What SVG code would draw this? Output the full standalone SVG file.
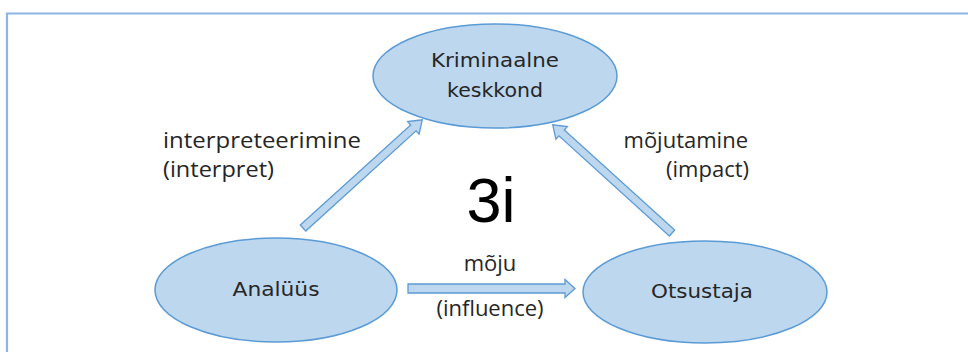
<svg xmlns="http://www.w3.org/2000/svg" width="968" height="352" viewBox="0 0 968 352">
<style>
.node{fill:#BDD7EE;stroke:#5B9BD5;stroke-width:1.5}
.ntext{font-family:"DejaVu Sans",Verdana,sans-serif;font-size:20px;fill:#262626;text-anchor:middle}
.label{font-family:"Open Sans","Liberation Sans",sans-serif;font-size:22px;fill:#262626}
.arrow{fill:#BDD7EE;stroke:#5B9BD5;stroke-width:1.3;stroke-linejoin:miter}
</style>
<rect width="968" height="352" fill="#ffffff"/>
<path d="M7,352 L7,13.5 L968,13.5" fill="none" stroke="#8DB4E2" stroke-width="2.2"/>
<g id="connectors">
<path class="arrow" transform="translate(303,228) rotate(-42.2)" d="M0,-4 L149,-4 L149,-8.5 L161,0 L149,8.5 L149,4 L0,4 Z"/>
<path class="arrow" transform="translate(672,233) rotate(-137.8)" d="M0,-4 L149,-4 L149,-8.5 L161,0 L149,8.5 L149,4 L0,4 Z"/>
<path class="arrow" transform="translate(408,288.5)" d="M0,-4.5 L157,-4.5 L157,-9 L167,0 L157,9 L157,4.5 L0,4.5 Z"/>
</g>
<g id="node-kriminaalne">
<ellipse class="node" cx="495" cy="76" rx="122" ry="52"/>
<text class="ntext" x="495" y="67" textLength="128" lengthAdjust="spacingAndGlyphs">Kriminaalne</text>
<text class="ntext" x="495" y="97" textLength="96" lengthAdjust="spacingAndGlyphs">keskkond</text>
</g>
<g id="node-analuus">
<ellipse class="node" cx="276" cy="290" rx="121" ry="52"/>
<text class="ntext" x="276" y="296" textLength="87" lengthAdjust="spacingAndGlyphs">Analüüs</text>
</g>
<g id="node-otsustaja">
<ellipse class="node" cx="705" cy="292" rx="122" ry="51"/>
<text class="ntext" x="702" y="298" textLength="102" lengthAdjust="spacingAndGlyphs">Otsustaja</text>
</g>
<g id="labels">
<text class="label" x="163" y="148" textLength="198" lengthAdjust="spacingAndGlyphs">interpreteerimine</text>
<text class="label" x="163" y="177" textLength="111" lengthAdjust="spacingAndGlyphs">(interpret)</text>
<text class="label" x="748" y="148" text-anchor="end">mõjutamine</text>
<text class="label" x="749" y="177" text-anchor="end">(impact)</text>
<text class="label" x="490" y="271" text-anchor="middle">mõju</text>
<text class="label" x="490" y="316" text-anchor="middle">(influence)</text>
<text x="491" y="222" text-anchor="middle" font-family="Liberation Sans, Arial, sans-serif" font-size="63" fill="#000000">3i</text>
</g>
</svg>
